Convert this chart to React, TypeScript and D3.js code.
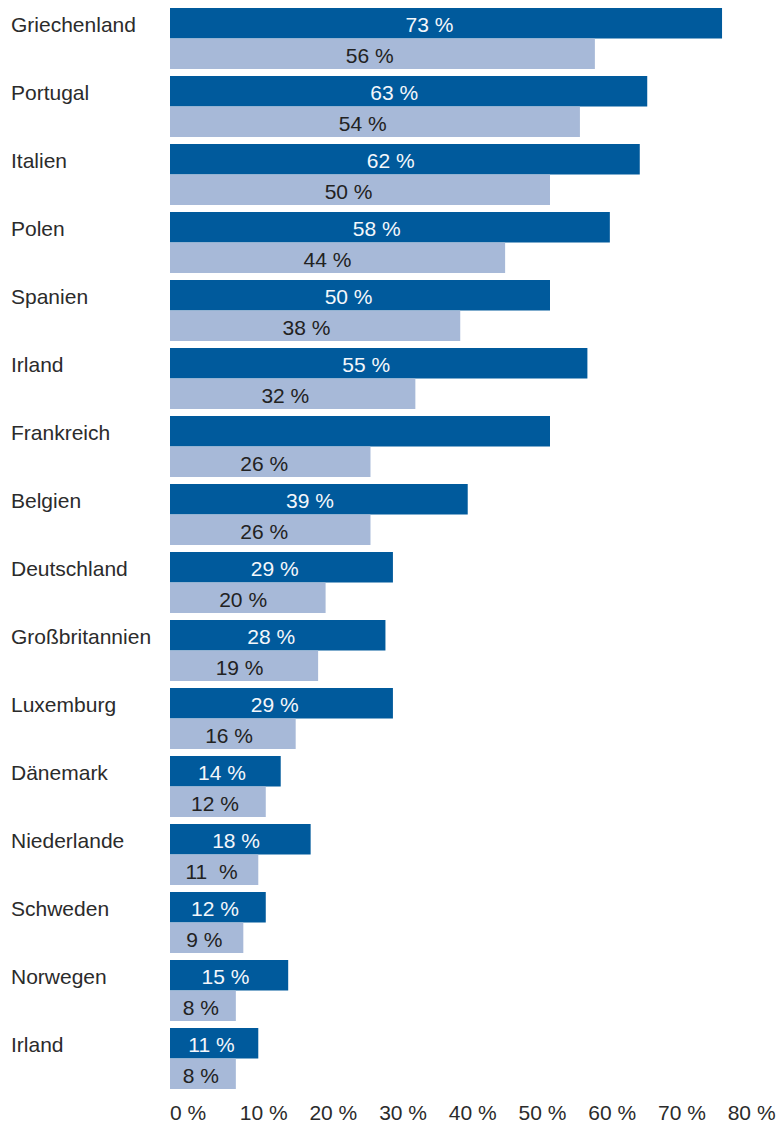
import React from "react";
import * as d3 from "d3";

const countries = [
  "Griechenland", "Portugal", "Italien", "Polen", "Spanien", "Irland",
  "Frankreich", "Belgien", "Deutschland", "Großbritannien", "Luxemburg",
  "Dänemark", "Niederlande", "Schweden", "Norwegen", "Irland",
];
const darkValues = [73, 63, 62, 58, 50, 55, 50, 39, 29, 28, 29, 14, 18, 12, 15, 11];
const darkLabels = ["73 %", "63 %", "62 %", "58 %", "50 %", "55 %", "", "39 %", "29 %", "28 %", "29 %", "14 %", "18 %", "12 %", "15 %", "11 %"];
const lightValues = [56, 54, 50, 44, 38, 32, 26, 26, 20, 19, 16, 12, 11, 9, 8, 8];
const lightLabels = ["56 %", "54 %", "50 %", "44 %", "38 %", "32 %", "26 %", "26 %", "20 %", "19 %", "16 %", "12 %", "11  %", "9 %", "8 %", "8 %"];
const tickValues = [0, 10, 20, 30, 40, 50, 60, 70, 80];
const tickLabels = tickValues.map((t) => `${t} %`);

const W = 777;
const H = 1124;
const DARK = "#005A9C";
const LIGHT = "#A7B9D8";
const FONT = "'Liberation Sans', Arial, sans-serif";

export default function App() {
  const barX0 = 170;
  const x = d3.scaleLinear().domain([0, 80]).range([176, 774.4]);
  const axisX = d3.scaleLinear().domain([0, 80]).range([170, 727.7]);
  const y = d3
    .scaleBand<number>()
    .domain(d3.range(countries.length))
    .range([8, 1089])
    .paddingInner(7 / 68)
    .paddingOuter(0);
  const bw = y.bandwidth();
  const half = bw / 2;
  const labelPos = (v: number) => barX0 + (x(v) - barX0) * 0.47;

  return (
    <div style={{ position: "absolute", left: 0, top: 0 }}>
      <svg width={W} height={H} style={{ display: "block" }} fontFamily={FONT}>
        <rect width={W} height={H} fill="#ffffff" />
        {countries.map((c, i) => {
          const top = y(i) as number;
          return (
            <g key={i}>
              <text x={11} y={top + 24} fontSize={21} fill="#2b2b2b">
                {c}
              </text>
              <rect x={barX0} y={top} width={x(darkValues[i]) - barX0} height={half} fill={DARK} />
              <rect x={barX0} y={top + half} width={x(lightValues[i]) - barX0} height={bw - half} fill={LIGHT} />
              {darkLabels[i] && (
                <text
                  x={labelPos(darkValues[i])}
                  y={top + 24.3}
                  fontSize={21}
                  fill="#f4f7fb"
                  textAnchor="middle"
                  style={{ whiteSpace: "pre" }}
                >
                  {darkLabels[i]}
                </text>
              )}
              <text
                x={labelPos(lightValues[i])}
                y={top + 55.3}
                fontSize={21}
                fill="#222222"
                textAnchor="middle"
                style={{ whiteSpace: "pre" }}
              >
                {lightLabels[i]}
              </text>
            </g>
          );
        })}
        {tickValues.map((t, i) => (
          <text key={t} x={axisX(t)} y={1120} fontSize={21} fill="#2b2b2b" textAnchor="start">
            {tickLabels[i]}
          </text>
        ))}
      </svg>
    </div>
  );
}
